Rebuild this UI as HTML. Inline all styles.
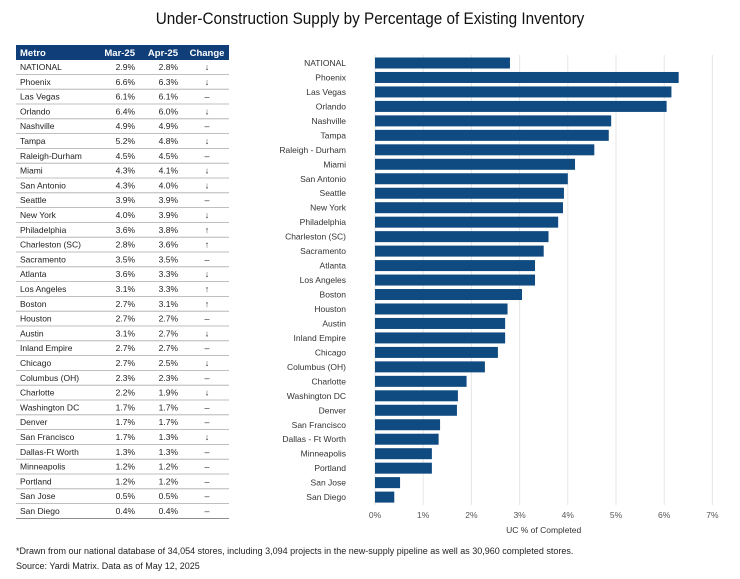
<!DOCTYPE html>
<html><head><meta charset="utf-8"><style>
body{margin:0;width:740px;height:579px;background:#fff;font-family:"Liberation Sans",sans-serif;position:relative;overflow:hidden}
.t{position:absolute;white-space:nowrap}
</style></head><body>
<div class="t" style="left:0;width:740px;text-align:center;top:9px;font-size:17px;color:#111;transform:scaleX(.9)">Under-Construction Supply by Percentage of Existing Inventory</div>
<svg id="tbl" width="740" height="579" style="position:absolute;left:0;top:0" font-family="Liberation Sans, sans-serif"></svg>
<div class="t" style="left:16px;top:546px;font-size:9px;color:#222">*Drawn from our national database of 34,054 stores, including 3,094 projects in the new-supply pipeline as well as 30,960 completed stores.</div>
<div class="t" style="left:16px;top:561px;font-size:9px;color:#222">Source: Yardi Matrix. Data as of May 12, 2025</div>
<script>
const metros=["NATIONAL","Phoenix","Las Vegas","Orlando","Nashville","Tampa","Raleigh-Durham","Miami","San Antonio","Seattle","New York","Philadelphia","Charleston (SC)","Sacramento","Atlanta","Los Angeles","Boston","Houston","Austin","Inland Empire","Chicago","Columbus (OH)","Charlotte","Washington DC","Denver","San Francisco","Dallas-Ft Worth","Minneapolis","Portland","San Jose","San Diego"];
const barLabels=["NATIONAL","Phoenix","Las Vegas","Orlando","Nashville","Tampa","Raleigh - Durham","Miami","San Antonio","Seattle","New York","Philadelphia","Charleston (SC)","Sacramento","Atlanta","Los Angeles","Boston","Houston","Austin","Inland Empire","Chicago","Columbus (OH)","Charlotte","Washington DC","Denver","San Francisco","Dallas - Ft Worth","Minneapolis","Portland","San Jose","San Diego"];
const mar25=[2.9,6.6,6.1,6.4,4.9,5.2,4.5,4.3,4.3,3.9,4.0,3.6,2.8,3.5,3.6,3.1,2.7,2.7,3.1,2.7,2.7,2.3,2.2,1.7,1.7,1.7,1.3,1.2,1.2,0.5,0.4];
const apr25=[2.8,6.3,6.1,6.0,4.9,4.8,4.5,4.1,4.0,3.9,3.9,3.8,3.6,3.5,3.3,3.3,3.1,2.7,2.7,2.7,2.5,2.3,1.9,1.7,1.7,1.3,1.3,1.2,1.2,0.5,0.4];
const barValues=[2.8,6.3,6.15,6.05,4.9,4.85,4.55,4.15,4.0,3.92,3.9,3.8,3.6,3.5,3.32,3.32,3.05,2.75,2.7,2.7,2.55,2.28,1.9,1.72,1.7,1.35,1.32,1.18,1.18,0.52,0.4];
const xTicks=[0,1,2,3,4,5,6,7];
const NS="http://www.w3.org/2000/svg";
const svg=document.getElementById('tbl');
function mk(tag,a,txt){const e=document.createElementNS(NS,tag);for(const k in a)e.setAttribute(k,a[k]);if(txt!=null)e.textContent=txt;svg.appendChild(e);return e;}
// table
const hdr=mk('rect',{x:16,y:45,width:213,height:15,fill:'#0f3e78'});


const hs=[["Metro",20,'start'],["Mar-25",135,'end'],["Apr-25",178,'end'],["Change",207,'middle']];
hs.forEach(h=>{const t=mk('text',{x:h[1],y:56,'font-size':9.5,'font-weight':'bold',fill:'#fff','text-anchor':h[2]},h[0]);

});
const rowY=i=>67+i*14.8;
metros.forEach((m,i)=>{const y=rowY(i);
const ln=mk('line',{x1:16,x2:229,y1:y+7.4,y2:y+7.4,stroke:i==metros.length-1?'#666':'#aaa','stroke-width':0.8});


const a=mk('text',{x:20,y:y+3,'font-size':8.5,fill:'#222'},m);


const b=mk('text',{x:135,y:y+3,'font-size':8.5,fill:'#222','text-anchor':'end'},mar25[i].toFixed(1)+'%');


const c=mk('text',{x:178,y:y+3,'font-size':8.5,fill:'#222','text-anchor':'end'},apr25[i].toFixed(1)+'%');


const ch=apr25[i]<mar25[i]?'↓':apr25[i]>mar25[i]?'↑':'–';
const d=mk('text',{x:207,y:y+3,'font-size':9,fill:'#333','text-anchor':'middle'},ch);

});
// bar chart
const x0=375,pxPer=48.2;
const xs=v=>x0+v*pxPer;
const by=i=>63+i*14.47;
xTicks.forEach(t=>{const g=mk('line',{x1:xs(t),x2:xs(t),y1:55,y2:505,stroke:'#e6e6e6','stroke-width':1});


const l=mk('text',{x:xs(t),y:518,'font-size':8.5,fill:'#555','text-anchor':'middle'},t+'%');

});
barLabels.forEach((m,i)=>{const y=by(i);
const r=mk('rect',{x:x0,y:y-5.5,width:xs(barValues[i])-x0,height:11,fill:'#0f4a80'});


const l=mk('text',{x:346,y:y+3,'font-size':8.5,fill:'#333','text-anchor':'end'},m);

});
const xt=mk('text',{x:xs(3.5),y:533,'font-size':8.5,fill:'#333','text-anchor':'middle'},'UC % of Completed');


</script>
</body></html>
